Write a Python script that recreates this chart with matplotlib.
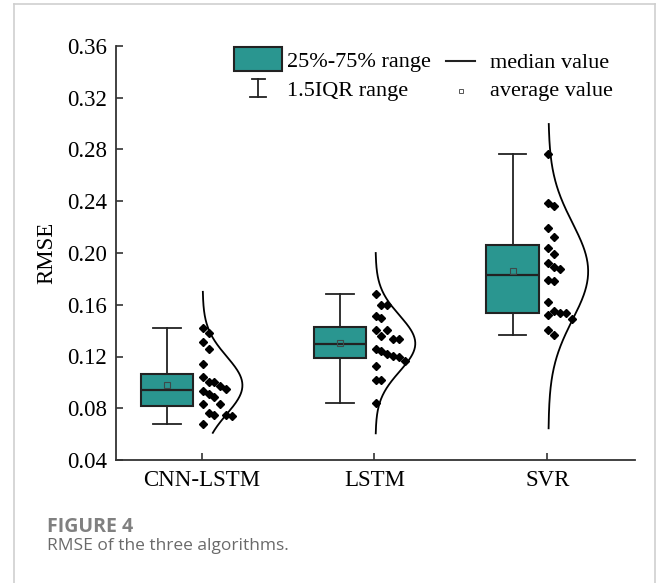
import numpy as np
import matplotlib
matplotlib.use("Agg")
import matplotlib.pyplot as plt
from matplotlib.lines import Line2D
from matplotlib.patches import Rectangle

# ---------------- data ----------------
categories = ["CNN-LSTM", "LSTM", "SVR"]
cnn_lstm = [0.1423, 0.1379, 0.1314, 0.1258, 0.1140, 0.1039, 0.1005, 0.1000, 0.0972, 0.0933,
            0.0946, 0.0885, 0.0910, 0.0833, 0.0833, 0.0748, 0.0748, 0.0761, 0.0740, 0.0678]
lstm = [0.1681, 0.1598, 0.1598, 0.1513, 0.1495, 0.1405, 0.1405, 0.1361, 0.1333, 0.1335,
        0.1258, 0.1243, 0.1206, 0.1219, 0.1194, 0.1168, 0.1127, 0.1018, 0.1018, 0.0838]
svr = [0.2765, 0.2384, 0.2363, 0.2196, 0.2121, 0.2041, 0.1990, 0.1920, 0.1894, 0.1876,
       0.1791, 0.1786, 0.1619, 0.1521, 0.1539, 0.1534, 0.1552, 0.1490, 0.1366, 0.1405]
series = [cnn_lstm, lstm, svr]
curve_lo = [0.061, 0.0606, 0.0645]   # extent of the fitted normal curves
curve_hi = [0.170, 0.200, 0.2997]
yticks = [0.04, 0.08, 0.12, 0.16, 0.20, 0.24, 0.28, 0.32, 0.36]

# ---------------- figure ----------------
W, H = 657, 583
fig = plt.figure(figsize=(W / 100, H / 100), dpi=100)
fig.patch.set_facecolor("white")

def fx(x):
    return x / W

def fy(y):
    return 1 - y / H

ax = fig.add_axes([fx(115.7), fy(460), fx(635) - fx(115.7), fy(46) - fy(460)])
serif = "Liberation Serif"
teal = "#2a9690"
dark = "#222222"

positions = np.arange(1, len(categories) + 1)
box_off = -0.2
box_w = 0.305

bp = ax.boxplot(series, positions=positions + box_off, widths=box_w, whis=1.5,
                patch_artist=True, showfliers=False, showmeans=True,
                boxprops=dict(facecolor=teal, edgecolor=dark, linewidth=1.5),
                medianprops=dict(color=dark, linewidth=1.6),
                whiskerprops=dict(color=dark, linewidth=1.3),
                capprops=dict(color=dark, linewidth=1.3),
                capwidths=box_w * 0.52,
                meanprops=dict(marker="s", markersize=4, markerfacecolor="none",
                               markeredgecolor="#3d4a4a", markeredgewidth=0.8),
                manage_ticks=False, zorder=2)

# points (simple greedy swarm) and fitted normal curves
step = 0.034
base_off = 0.006
thr = 0.0095
curve_h = 0.23
for i, vals in enumerate(series):
    v = np.array(vals)
    order = np.argsort(-v)
    cols = {}
    xs = np.zeros_like(v)
    for idx in order:
        c = 0
        while any(abs(v[idx] - u) < thr for u in cols.get(c, [])):
            c += 1
        cols.setdefault(c, []).append(v[idx])
        xs[idx] = positions[i] + base_off + c * step
    ax.plot(xs, v, linestyle="none", marker="D", markersize=4.3, color="black", zorder=3)

    mu, sd = v.mean(), v.std(ddof=1)
    yy = np.linspace(curve_lo[i], curve_hi[i], 300)
    xx = positions[i] + base_off + curve_h * np.exp(-0.5 * ((yy - mu) / sd) ** 2)
    ax.plot(xx, yy, color="black", linewidth=1.3, zorder=3)

ax.set_xlim(0.503, 3.507)
ax.set_ylim(0.04, 0.36)
ax.set_yticks(yticks)
ax.set_yticklabels([f"{t:.2f}" for t in yticks], fontfamily=serif, fontsize=16.5)
ax.set_xticks(positions)
ax.set_xticklabels(categories, fontfamily=serif, fontsize=16.5)
ax.tick_params(axis="both", direction="in", length=5, width=1.2, color="#333333")
ax.tick_params(axis="y", pad=6)
ax.tick_params(axis="x", pad=7)
for s in ["top", "right"]:
    ax.spines[s].set_visible(False)
for s in ["left", "bottom"]:
    ax.spines[s].set_linewidth(1.3)
    ax.spines[s].set_color("#333333")
ax.set_ylabel("RMSE", fontfamily=serif, fontsize=16.5, labelpad=7)

# ---------------- legend (hand drawn) ----------------
fig.patches.append(Rectangle((fx(234), fy(71)), fx(282) - fx(234), fy(47) - fy(71),
                             transform=fig.transFigure, facecolor=teal,
                             edgecolor=dark, linewidth=1.5))
fig.lines.append(Line2D([fx(258), fx(258)], [fy(79), fy(97)], transform=fig.transFigure,
                        color=dark, linewidth=1.3))
fig.lines.append(Line2D([fx(252), fx(265)], [fy(79), fy(79)], transform=fig.transFigure,
                        color=dark, linewidth=1.3))
fig.lines.append(Line2D([fx(250), fx(266)], [fy(97), fy(97)], transform=fig.transFigure,
                        color=dark, linewidth=1.3))
fig.lines.append(Line2D([fx(446), fx(475)], [fy(61), fy(61)], transform=fig.transFigure,
                        color=dark, linewidth=1.5))
fig.lines.append(Line2D([fx(461)], [fy(91)], transform=fig.transFigure, marker="s",
                        markersize=3.5, markerfacecolor="none", markeredgecolor="#555555",
                        markeredgewidth=0.7, linestyle="none"))
leg_fs = 16
fig.text(fx(287), fy(67.5), "25%-75% range", fontfamily=serif, fontsize=leg_fs, va="baseline")
fig.text(fx(287), fy(96), "1.5IQR range", fontfamily=serif, fontsize=leg_fs, va="baseline")
fig.text(fx(490), fy(67.5), "median value", fontfamily=serif, fontsize=leg_fs, va="baseline")
fig.text(fx(490), fy(96), "average value", fontfamily=serif, fontsize=leg_fs, va="baseline")

# ---------------- caption and page frame ----------------
fig.text(fx(47), fy(532), "FIGURE 4", fontfamily="Open Sans", fontweight="bold",
         fontsize=14, color="#808080", va="baseline")
fig.text(fx(47), fy(550), "RMSE of the three algorithms.", fontfamily="Open Sans",
         fontsize=12.5, color="#6a6a6a", va="baseline")
frame = "#cfcfcf"
fig.lines.append(Line2D([fx(14), fx(14)], [0, fy(4)], transform=fig.transFigure, color=frame, linewidth=1.2))
fig.lines.append(Line2D([fx(14), fx(655)], [fy(4), fy(4)], transform=fig.transFigure, color=frame, linewidth=1.2))
fig.lines.append(Line2D([fx(655), fx(655)], [fy(4), 0], transform=fig.transFigure, color=frame, linewidth=1.2))

fig.savefig("out.png", dpi=100, facecolor="white")
